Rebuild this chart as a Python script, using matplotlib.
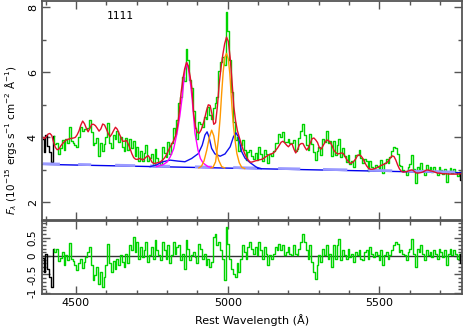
import numpy as np
import matplotlib.pyplot as plt
from matplotlib.ticker import MultipleLocator

# ---- data ----
# total model (red) on a 6 A grid, 4390 .. 5770 A (one row = 60 A)
model = [
    4.01, 3.96, 4.02, 4.10, 4.12, 4.06, 3.86, 3.69, 3.62, 3.64,   # 4390
    3.74, 3.81, 3.87, 3.92, 3.94, 3.96, 3.97, 3.98, 4.00, 4.08,   # 4450
    4.20, 4.38, 4.50, 4.42, 4.28, 4.17, 4.28, 4.40, 4.40, 4.36,   # 4510
    4.28, 4.19, 4.26, 4.41, 4.38, 4.26, 4.12, 4.02, 4.10, 4.21,   # 4570
    4.31, 4.25, 4.12, 4.00, 3.88, 3.88, 3.91, 3.80, 3.66, 3.50,   # 4630
    3.38, 3.33, 3.32, 3.35, 3.34, 3.30, 3.35, 3.40, 3.44, 3.36,   # 4690
    3.24, 3.20, 3.20, 3.22, 3.23, 3.26, 3.31, 3.37, 3.46, 3.58,   # 4750
    3.70, 3.80, 3.90, 4.05, 4.30, 4.75, 5.35, 5.78, 6.10, 6.30,   # 4810
    6.20, 5.88, 5.50, 4.70, 4.32, 4.15, 4.13, 4.22, 4.38, 4.58,   # 4870
    4.82, 5.00, 4.98, 4.72, 4.40, 4.45, 4.95, 5.65, 6.15, 6.55,   # 4930
    6.88, 7.08, 6.95, 6.45, 5.75, 4.95, 4.50, 4.20, 4.00, 3.82,   # 4990
    3.64, 3.50, 3.38, 3.30, 3.24, 3.24, 3.26, 3.28, 3.29, 3.31,   # 5050
    3.32, 3.34, 3.38, 3.42, 3.46, 3.48, 3.50, 3.53, 3.60, 3.67,   # 5110
    3.76, 3.85, 3.88, 3.83, 3.76, 3.71, 3.78, 3.80, 3.64, 3.52,   # 5170
    3.62, 3.77, 3.81, 3.81, 3.70, 3.61, 3.68, 3.82, 3.96, 3.98,   # 5230
    3.92, 3.84, 3.68, 3.64, 3.74, 3.84, 3.92, 3.90, 3.84, 3.74,   # 5290
    3.60, 3.53, 3.49, 3.50, 3.52, 3.51, 3.42, 3.32, 3.25, 3.20,   # 5350
    3.22, 3.27, 3.34, 3.45, 3.46, 3.42, 3.34, 3.22, 3.12, 3.05,   # 5410
    3.02, 3.02, 3.03, 3.05, 3.08, 3.11, 3.14, 3.16, 3.19, 3.22,   # 5470
    3.28, 3.37, 3.43, 3.41, 3.30, 3.15, 3.03, 2.96, 2.93, 2.94,   # 5530
    2.95, 2.97, 2.99, 3.00, 2.96, 2.91, 2.90, 2.91, 2.92, 2.94,   # 5590
    2.97, 3.00, 2.99, 2.97, 2.96, 2.94, 2.92, 2.90, 2.90, 2.89,   # 5650
    2.88, 2.88, 2.88, 2.87, 2.87, 2.87, 2.87, 2.87, 2.87, 2.88,   # 5710
    2.88,                                                         # 5770
]

# residuals (data - model), same grid
resid = [
    -0.06, -0.42, 0.06, -0.36, -0.57, -0.83, 0.18, 0.12, 0.20, -0.14,    # 4390
    -0.06, 0.12, -0.25, 0.02, -0.10, 0.36, -0.07, -0.14, -0.25, -0.39,   # 4450
    -0.18, -0.07, -0.32, -0.17, -0.02, 0.11, 0.24, -0.25, -0.65, -0.52,  # 4510
    -0.30, -0.75, -0.43, -0.83, -0.57, -0.24, 0.33, -0.20, -0.43, -0.14, # 4570
    -0.35, -0.07, -0.25, 0.02, -0.17, -0.30, 0.06, -0.20, 0.29, 0.16,    # 4630
    0.51, 0.11, 0.38, -0.07, 0.24, -0.02, 0.16, 0.38, -0.17, 0.02,       # 4690
    0.24, -0.07, 0.43, 0.16, 0.02, -0.12, 0.38, 0.16, -0.07, 0.29,       # 4750
    -0.20, 0.02, 0.38, 0.06, 0.24, 0.30, -0.12, 0.06, -0.36, 0.43,       # 4810
    0.18, -0.12, 0.02, 0.11, -0.02, -0.20, 0.33, 0.20, -0.07, 0.06,      # 4870
    -0.25, -0.07, -0.30, -0.17, 0.51, 0.61, 0.29, 0.38, 0.16, -0.07,     # 4930
    -0.65, 0.78, 0.33, -0.07, -0.35, -0.48, -0.57, -0.20, -0.43, -0.07,  # 4990
    0.29, 0.11, -0.07, 0.24, 0.38, 0.20, 0.06, 0.24, 0.02, 0.38,         # 5050
    0.16, -0.07, 0.24, 0.06, -0.25, 0.02, -0.07, 0.06, 0.24, 0.16,       # 5110
    0.33, 0.16, 0.29, 0.02, 0.11, 0.24, 0.06, 0.02, 0.29, 0.06,          # 5170
    0.02, 0.20, 0.38, 0.61, 0.38, 0.16, -0.07, 0.29, -0.17, -0.43,       # 5230
    -0.62, -0.25, 0.02, -0.17, 0.20, 0.02, 0.29, -0.07, 0.06, -0.30,     # 5290
    0.29, -0.07, 0.29, 0.46, -0.12, 0.16, 0.02, -0.07, 0.20, -0.02,      # 5350
    0.06, -0.17, 0.11, 0.02, 0.16, -0.07, -0.12, 0.11, 0.16, -0.07,      # 5410
    0.24, 0.06, -0.02, 0.11, 0.02, -0.12, 0.16, -0.25, 0.02, 0.11,       # 5470
    -0.07, 0.02, 0.16, 0.29, 0.38, 0.33, 0.11, 0.16, 0.06, 0.02,         # 5530
    -0.12, 0.11, 0.20, 0.46, 0.06, -0.30, 0.20, 0.11, 0.29, 0.06,        # 5590
    -0.12, 0.16, 0.02, 0.11, -0.02, 0.16, 0.06, -0.07, 0.20, 0.11,       # 5650
    -0.02, 0.16, -0.24, 0.06, 0.20, 0.02, 0.16, 0.06, -0.07, 0.06,       # 5710
    -0.18,                                                               # 5770
]

# power-law continuum (blue straight line) and fitting windows
cont_wl = [4388, 5772]
cont_flux = [3.17, 2.91]
windows = [(4391, 4447), (4507, 4550), (4629, 4695), (4744, 4810), (4892, 4948),
           (5018, 5097), (5166, 5239), (5314, 5394), (5463, 5542), (5591, 5750)]

# emission-line components (continuum included)
hb_wl = [4765, 4787, 4800, 4810, 4822, 4833, 4842, 4850, 4859, 4866, 4872,
         4878, 4883, 4892, 4902, 4910, 4919, 4935, 4950]
hb_flux = [3.10, 3.16, 3.24, 3.39, 3.65, 4.13, 4.65, 5.24, 6.07, 6.29, 6.01,
           5.60, 5.15, 4.13, 3.61, 3.35, 3.21, 3.10, 3.07]
o3a_wl = [4905, 4914, 4922, 4931, 4940, 4947, 4954, 4962, 4970, 4980, 4990]
o3a_flux = [3.06, 3.12, 3.28, 3.61, 4.02, 4.22, 4.05, 3.62, 3.30, 3.10, 3.06]
o3b_wl = [4945, 4952, 4960, 4969, 4975, 4980, 4985, 4990, 4996, 5002, 5007,
          5011, 5015, 5019, 5025, 5030, 5038, 5046, 5056]
o3b_flux = [3.06, 3.09, 3.25, 3.92, 4.60, 5.35, 6.00, 6.45, 6.58, 6.40, 5.95,
            5.35, 4.80, 4.33, 3.85, 3.51, 3.22, 3.08, 3.04]
broad_wl = [4744, 4765, 4782, 4810, 4836, 4859, 4881, 4903, 4916, 4925, 4932,
            4938, 4947, 4958, 4975, 4991, 5008, 5019, 5027, 5035, 5046, 5057,
            5074, 5095, 5110]
broad_flux = [3.10, 3.15, 3.24, 3.30, 3.27, 3.25, 3.35, 3.50, 3.76, 4.07, 4.17,
              4.02, 3.66, 3.49, 3.42, 3.49, 3.71, 4.02, 4.14, 4.02, 3.56, 3.36,
              3.22, 3.08, 3.04]

resid_ticks = [-1, -0.5, 0, 0.5]
resid_ticklabels = ['-1', '-0.5', '0', '0.5']

# ---- derived ----
model = np.array(model)
resid = np.array(resid)
wl = 4390 + 6 * np.arange(len(model))
flux = model + resid
lo = 6     # first points drawn black (masked region)
hi = len(wl) - 2

frame = '#555555'
green = '#00d400'

fig = plt.figure(figsize=(4.63, 3.27), dpi=100)
ax1 = fig.add_axes([42 / 463, 1 - 220 / 327, 420 / 463, 219 / 327])
ax2 = fig.add_axes([42 / 463, 1 - 294 / 327, 420 / 463, 73 / 327])

# ---- top panel ----
ax1.plot(wl[:lo + 1], flux[:lo + 1], color='black', lw=1, drawstyle='steps-mid')
ax1.plot(wl[lo:hi + 1], flux[lo:hi + 1], color=green, lw=1, drawstyle='steps-mid')
ax1.plot(wl[hi:], flux[hi:], color='black', lw=1, drawstyle='steps-mid')

ax1.plot(cont_wl, cont_flux, color='#0000ee', lw=1)
for a, b in windows:
    ax1.plot([a, b], np.interp([a, b], cont_wl, cont_flux) + 0.02,
             color='#9a9aff', lw=2, solid_capstyle='butt')

ax1.plot(broad_wl, broad_flux, color='#1010ee', lw=1)
ax1.plot(hb_wl, hb_flux, color='#ff00ff', lw=1)
ax1.plot(o3a_wl, o3a_flux, color='#ff9900', lw=1)
ax1.plot(o3b_wl, o3b_flux, color='#ff9900', lw=1)
ax1.plot(wl, model, color='#e0102a', lw=1)

ax1.set_xlim(4388, 5772)
ax1.set_ylim(1.46, 8.19)
ax1.set_yticks([2, 4, 6, 8])
ax1.yaxis.set_minor_locator(MultipleLocator(1))
ax1.tick_params(labelbottom=False)
fig.text(120 / 463, 1 - 16 / 327, '1111', fontsize=8, family='DejaVu Sans Mono',
         ha='center', va='center')

# ---- residual panel ----
ax2.axhline(0, color='#333333', lw=1)
ax2.plot(wl[:lo + 1], resid[:lo + 1], color='black', lw=1, drawstyle='steps-mid')
ax2.plot(wl[lo:hi + 1], resid[lo:hi + 1], color=green, lw=1, drawstyle='steps-mid')
ax2.plot(wl[hi:], resid[hi:], color='black', lw=1, drawstyle='steps-mid')
ax2.set_xlim(4388, 5772)
ax2.set_ylim(-1.03, 0.95)
ax2.set_yticks(resid_ticks)
ax2.set_yticklabels(resid_ticklabels)
ax2.yaxis.set_minor_locator(MultipleLocator(0.1))
ax2.set_xlabel('Rest Wavelength (\u00c5)', fontsize=8, labelpad=4)

for ax in (ax1, ax2):
    ax.xaxis.set_major_locator(MultipleLocator(500))
    ax.xaxis.set_minor_locator(MultipleLocator(100))
    ax.tick_params(which='both', direction='in', top=True, right=True,
                   color=frame, labelsize=8, pad=3)
    ax.tick_params(which='major', length=6, width=1)
    ax.tick_params(which='minor', length=3, width=1)
    ax.tick_params(axis='y', labelrotation=90)
    for lab in ax.get_yticklabels():
        lab.set_va('center')
    for s in ax.spines.values():
        s.set_color(frame)
        s.set_linewidth(1.3)
ax2.tick_params(axis='y', labelsize=7.5)

fig.text(11 / 463, 1 - 140 / 327,
         r'$F_\lambda$ (10$^{-15}$ ergs s$^{-1}$ cm$^{-2}$ $\mathrm{\AA}^{-1}$)',
         rotation=90, fontsize=7.5, ha='center', va='center')

fig.savefig('out.png', dpi=100)
